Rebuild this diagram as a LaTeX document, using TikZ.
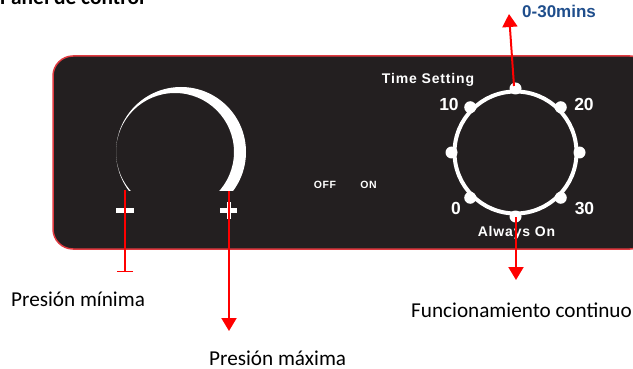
\documentclass[tikz,border=0pt]{standalone}
\usepackage{fontspec}
\setmainfont{Carlito}
\newfontfamily\arialf{Liberation Sans}
\newfontfamily\arialsp{Liberation Sans}[LetterSpace=6]
\usetikzlibrary{arrows.meta}
\definecolor{panelbg}{HTML}{231F20}
\definecolor{panelred}{HTML}{E03A40}
\definecolor{arrowred}{HTML}{FF0000}
\definecolor{minsblue}{HTML}{1F4E8C}
\tikzset{
  lbl/.style={inner sep=0pt, anchor=base west, font=\fontsize{21.2}{23}\selectfont},
  dialtxt/.style={inner sep=0pt, text=white, font=\arialf\bfseries\fontsize{17.5}{19}\selectfont},
  paneltxt/.style={inner sep=0pt, text=white, font=\arialsp\bfseries\fontsize{14}{16}\selectfont},
  smalltxt/.style={inner sep=0pt, text=white, font=\arialsp\bfseries\fontsize{10.5}{12}\selectfont},
  redline/.style={draw=arrowred, line width=2pt},
  redarrow/.style={redline, -{Triangle[width=15pt,length=13pt]}},
}
\begin{document}
\begin{tikzpicture}[x=1pt,y=-1pt]
\useasboundingbox (0,0) rectangle (633,369);
% title (cut at top)
\node[inner sep=0pt, anchor=base west, font=\bfseries\fontsize{21.4}{23}\selectfont] (title) at (0,5) {Panel de control};
\node[inner sep=0pt, anchor=base west, text=minsblue, font=\arialf\bfseries\fontsize{17}{19}\selectfont] (mins) at (522,17.5) {0-30mins};
% panel
\draw[fill=panelbg, draw=panelred, line width=1.5pt, rounded corners=20pt] (53,56) rectangle (650,249);
% pressure crescent
\begin{scope}
  \clip (100,60) rectangle (260,191);
  \fill[white, even odd rule] (181,152) circle[radius=65pt] (175,152) circle[radius=59pt];
\end{scope}
\fill[white] (116,208) rectangle (134,213);
\fill[white] (220,208) rectangle (237,213);
\fill[white] (226.5,202) rectangle (230.5,219);
% OFF ON
\node[smalltxt] (off) at (325,185) {OFF};
\node[smalltxt] (on) at (368.5,185) {ON};
% dial
\coordinate (dc) at (515.5,152.5);
\draw[white, line width=4pt] (dc) circle[radius=61pt];
\foreach \a in {0,45,...,315}{
  \fill[white] (dc) ++(\a:64pt) circle[radius=6pt];
}
\node[paneltxt] (ts) at (428,80) {Time Setting};
\node[dialtxt] (d10) at (449,104) {10};
\node[dialtxt] (d20) at (584,104) {20};
\node[dialtxt] (d0) at (456,208) {0};
\node[dialtxt] (d30) at (584.5,208) {30};
\node[paneltxt] (aon) at (516.5,233) {Always On};
% labels
\node[lbl] (pmin) at (11,306) {Presión mínima};
\node[lbl] (pmax) at (209,365.5) {Presión máxima};
\node[lbl] (func) at (411,317) {Funcionamiento continuo};
% connectors
\coordinate (minA) at (125,190);
\coordinate (minB) at (125,272);
\coordinate (maxA) at (229,191);
\coordinate (maxB) at (229,331);
\coordinate (topA) at (514,86);
\coordinate (topB) at (509,14);
\coordinate (botA) at (516,217);
\coordinate (botB) at (516,280);
\draw[redline, -{Bar[width=16pt,line width=1pt]}] (minA) -- (minB);
\draw[redarrow] (maxA) -- (maxB);
\draw[redarrow] (topA) -- (topB);
\draw[redarrow] (botA) -- (botB);
\end{tikzpicture}
\end{document}
